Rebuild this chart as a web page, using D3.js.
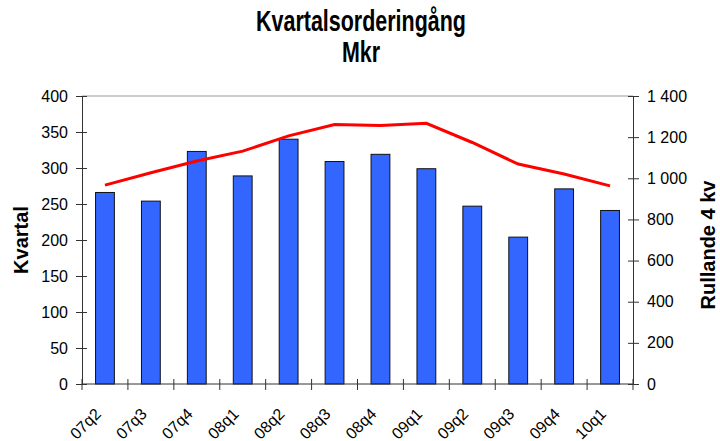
<!DOCTYPE html>
<html lang="sv">
<head>
<meta charset="UTF-8">
<title>Kvartalsorderingång</title>
<style>
    body { margin: 0; background: #fff; }
    svg { display: block; font-family: "Liberation Sans", Arial, sans-serif; }
    .axis path, .axis line { stroke: #333; }
    .axis text { font-size: 16px; fill: #000; }
</style>
</head>
<body>
<svg id="chart" width="720" height="441"></svg>
<script src="https://d3js.org/d3.v7.min.js"></script>
<script>
    const quarters = ["07q2", "07q3", "07q4", "08q1", "08q2", "08q3", "08q4", "09q1", "09q2", "09q3", "09q4", "10q1"];
    const kvartal = [266, 254, 323, 289, 340, 309, 319, 299, 247, 204, 271, 241];
    const rullande = [967, 1027, 1084, 1132, 1206, 1261, 1257, 1267, 1174, 1069, 1021, 963];
    const leftTicks = [0, 50, 100, 150, 200, 250, 300, 350, 400];
    const rightTicks = [0, 200, 400, 600, 800, 1000, 1200, 1400];

    const svg = d3.select("#chart");
    const plotLeft = 82, plotRight = 633, plotTop = 96, plotBottom = 384;

    const x = d3.scaleBand().domain(quarters).range([plotLeft, plotRight]).paddingInner(0.59).paddingOuter(0.295);
    const xTicks = d3.scaleLinear().domain([0, quarters.length]).range([plotLeft, plotRight]);
    const y = d3.scaleLinear().domain([0, 400]).range([plotBottom, plotTop]);
    const y2 = d3.scaleLinear().domain([0, 1400]).range([plotBottom, plotTop]);
    const fmt = d => d3.format(",")(d).replace(/,/g, " ");

    // top border of plot area
    svg.append("line")
        .attr("x1", plotLeft).attr("x2", plotRight)
        .attr("y1", plotTop).attr("y2", plotTop)
        .attr("stroke", "#999");

    // bars
    svg.append("g")
        .selectAll("rect")
        .data(kvartal)
        .enter().append("rect")
        .attr("x", (d, i) => x(quarters[i]))
        .attr("y", d => y(d))
        .attr("width", x.bandwidth())
        .attr("height", d => plotBottom - y(d))
        .attr("fill", "#3366ff")
        .attr("stroke", "#111")
        .attr("stroke-width", 1);

    // rolling line
    const line = d3.line()
        .x((d, i) => x(quarters[i]) + x.bandwidth() / 2)
        .y(d => y2(d));
    svg.append("path")
        .datum(rullande)
        .attr("d", line)
        .attr("fill", "none")
        .attr("stroke", "#ff0000")
        .attr("stroke-width", 3);

    // left axis
    const gl = svg.append("g").attr("class", "axis")
        .attr("transform", `translate(${plotLeft},0)`)
        .call(d3.axisLeft(y).tickValues(leftTicks).tickSize(5).tickPadding(9).tickSizeOuter(0));
    gl.selectAll(".tick line").attr("x2", 5).attr("x1", -6);
    gl.selectAll(".tick text").attr("x", -14);

    // right axis
    const gr = svg.append("g").attr("class", "axis")
        .attr("transform", `translate(${plotRight},0)`)
        .call(d3.axisRight(y2).tickValues(rightTicks).tickFormat(fmt).tickSize(6).tickSizeOuter(0));
    gr.selectAll(".tick line").attr("x1", -5).attr("x2", 6);
    gr.selectAll(".tick text").attr("x", 14);

    // bottom axis
    const gb = svg.append("g").attr("class", "axis")
        .attr("transform", `translate(0,${plotBottom})`);
    gb.append("line").attr("x1", plotLeft).attr("x2", plotRight).attr("stroke", "#333");
    gb.selectAll(".tk")
        .data(d3.range(quarters.length + 1))
        .enter().append("line")
        .attr("x1", d => xTicks(d)).attr("x2", d => xTicks(d))
        .attr("y1", -5).attr("y2", 6)
        .attr("stroke", "#333");
    gb.selectAll("text")
        .data(quarters)
        .enter().append("text")
        .attr("transform", d => `translate(${x(d) + x.bandwidth() / 2 - 3},${31}) rotate(-45)`)
        .attr("text-anchor", "end")
        .text(d => d);

    // titles (the original heading is tall and narrow)
    svg.append("text")
        .attr("transform", "translate(361,31) scale(0.74,1)")
        .attr("text-anchor", "middle")
        .attr("font-size", 29).attr("font-weight", "bold")
        .text("Kvartalsorderingång");
    svg.append("text")
        .attr("transform", "translate(361,62) scale(0.74,1)")
        .attr("text-anchor", "middle")
        .attr("font-size", 29).attr("font-weight", "bold")
        .text("Mkr");

    svg.append("text")
        .attr("transform", `translate(28,240) rotate(-90)`)
        .attr("text-anchor", "middle")
        .attr("font-size", 20).attr("font-weight", "bold")
        .text("Kvartal");
    svg.append("text")
        .attr("transform", `translate(715,245) rotate(-90)`)
        .attr("text-anchor", "middle")
        .attr("font-size", 20).attr("font-weight", "bold")
        .text("Rullande 4 kv");
</script>
</body>
</html>
